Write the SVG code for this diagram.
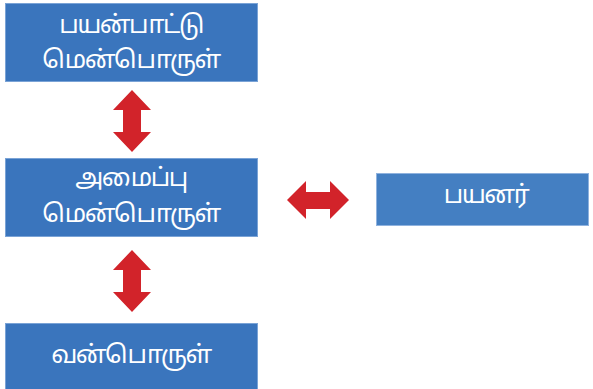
<svg xmlns="http://www.w3.org/2000/svg" width="593" height="389" viewBox="0 0 593 389">
<style>
.box{fill:#3a75bd;stroke:#7aa3d6;stroke-width:1}
.box2{fill:#447fc2;stroke:#8fb2de;stroke-width:1}
.lbl{fill:#ffffff;font-family:"Noto Sans Tamil","Noto Sans","DejaVu Sans",sans-serif;font-size:25px;letter-spacing:-1.5px;text-anchor:middle}
.arr{fill:#d2232a}
</style>
<rect width="593" height="389" fill="#ffffff"/>
<g id="node-app">
<rect class="box" x="5.5" y="3.5" width="252" height="78"/>
<text class="lbl" x="131" y="33">பயன்பாட்டு</text>
<text class="lbl" x="131" y="68">மென்பொருள்</text>
</g>
<g id="node-system">
<rect class="box" x="5.5" y="158.5" width="252" height="78"/>
<text class="lbl" x="131" y="186">அமைப்பு</text>
<text class="lbl" x="131" y="222">மென்பொருள்</text>
</g>
<g id="node-hardware">
<rect class="box" x="5.5" y="323.5" width="252" height="70"/>
<text class="lbl" x="131" y="363">வன்பொருள்</text>
</g>
<g id="node-user">
<rect class="box2" x="376.5" y="173.5" width="212" height="52"/>
<text class="lbl" x="486" y="203">பயனர்</text>
</g>
<g id="connectors">
<polygon class="arr" points="132,90 151,110 141,110 141,132 151,132 132,152 113,132 123,132 123,110 113,110"/>
<polygon class="arr" points="132,250 151,270 141,270 141,292 151,292 132,312 113,292 123,292 123,270 113,270"/>
<polygon class="arr" points="287,200 306,181 306,192 330,192 330,181 349,200 330,219 330,209 306,209 306,219"/>
</g>
</svg>
